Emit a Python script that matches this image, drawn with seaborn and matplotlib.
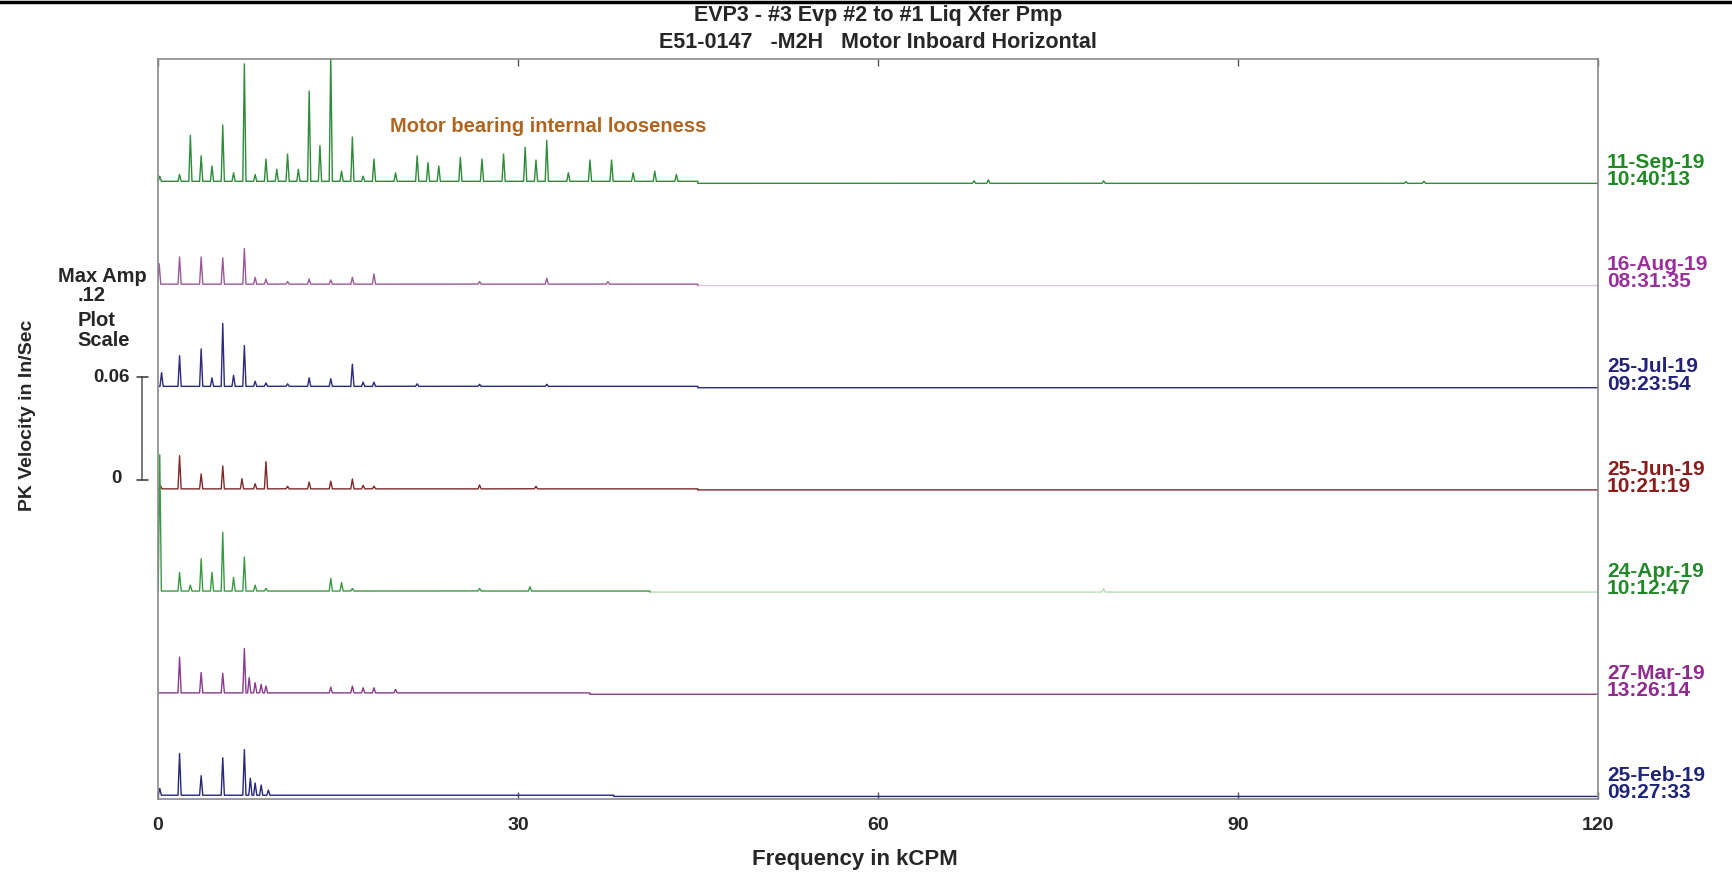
import numpy as np
import pandas as pd
import matplotlib.pyplot as plt
import seaborn as sns

# trace labels, top to bottom
dates = ["11-Sep-19", "16-Aug-19", "25-Jul-19", "25-Jun-19", "24-Apr-19", "27-Mar-19", "25-Feb-19"]
times = ["10:40:13", "08:31:35", "09:23:54", "10:21:19", "10:12:47", "13:26:14", "09:27:33"]
offsets = [0.36, 0.30, 0.24, 0.18, 0.12, 0.06, 0.0]

# peaks: frequency (kCPM) / amplitude (in/s)
sep_freq = [0.15, 1.8, 2.7, 3.6, 4.5, 5.4, 6.3, 7.2, 8.1, 9.0, 9.9, 10.8, 11.7, 12.6, 13.5, 14.4,
            15.3, 16.2, 17.1, 18.0, 19.8, 21.6, 22.5, 23.4, 25.2, 27.0, 28.8, 30.6, 31.5, 32.4,
            34.2, 36.0, 37.8, 39.6, 41.4, 43.2, 68.0, 69.2, 78.8, 104.0, 105.5]
sep_amp = [0.003, 0.004, 0.027, 0.015, 0.009, 0.033, 0.005, 0.069, 0.004, 0.013, 0.007, 0.016,
           0.007, 0.053, 0.021, 0.0735, 0.006, 0.026, 0.003, 0.013, 0.005, 0.015, 0.011, 0.009,
           0.014, 0.013, 0.016, 0.020, 0.0125, 0.024, 0.005, 0.0125, 0.0125, 0.005, 0.006, 0.004,
           0.0015, 0.002, 0.0015, 0.001, 0.0012]

aug_freq = [0.1, 1.8, 3.6, 5.4, 7.2, 8.1, 9.0, 10.8, 12.6, 14.4, 16.2, 18.0, 26.8, 32.4, 37.5]
aug_amp = [0.012, 0.016, 0.016, 0.0155, 0.021, 0.004, 0.003, 0.0015, 0.003, 0.0025, 0.004,
           0.006, 0.0015, 0.0035, 0.0015]

jul_freq = [0.3, 1.8, 3.6, 4.5, 5.4, 6.3, 7.2, 8.1, 9.0, 10.8, 12.6, 14.4, 16.2, 17.1, 18.0,
            21.6, 26.8, 32.4]
jul_amp = [0.008, 0.018, 0.022, 0.005, 0.037, 0.0065, 0.024, 0.003, 0.002, 0.0015, 0.005,
           0.0045, 0.013, 0.0025, 0.0025, 0.0015, 0.0012, 0.0012]

jun_freq = [0.2, 1.8, 3.6, 5.4, 7.0, 8.1, 9.0, 10.8, 12.6, 14.4, 16.2, 17.1, 18.0, 26.8, 31.5]
jun_amp = [0.002, 0.0195, 0.0088, 0.0135, 0.006, 0.003, 0.016, 0.0015, 0.004, 0.0045, 0.0058,
           0.002, 0.0015, 0.0023, 0.0015]

apr_freq = [0.15, 1.8, 2.7, 3.6, 4.5, 5.4, 6.3, 7.2, 8.1, 9.0, 14.4, 15.3, 16.2, 26.8, 31.0, 78.8]
apr_amp = [0.080, 0.011, 0.0035, 0.019, 0.011, 0.0345, 0.008, 0.020, 0.0035, 0.0015, 0.0075,
           0.005, 0.0015, 0.0015, 0.0025, 0.002]

mar_freq = [1.8, 3.6, 5.4, 7.2, 7.6, 8.1, 8.6, 9.0, 14.4, 16.2, 17.1, 18.0, 19.8]
mar_amp = [0.021, 0.012, 0.0115, 0.026, 0.009, 0.006, 0.005, 0.004, 0.0033, 0.004, 0.003,
           0.003, 0.002]

feb_freq = [0.15, 1.8, 3.6, 5.4, 7.2, 7.7, 8.1, 8.6, 9.2]
feb_amp = [0.004, 0.0245, 0.0115, 0.022, 0.0268, 0.010, 0.0072, 0.006, 0.003]

floor_level = [0.0012, 0.0008, 0.0008, 0.0006, 0.0006, 0.0008, 0.0007]
floor_end = [45, 45, 45, 45, 41, 36, 38]

label_colors = ["#1f8a24", "#9a2f9a", "#23237a", "#8b1c1c", "#23882a", "#8f2a8f", "#1e2478"]
line_colors = ["#2e8b3a", "#9a5a9a", "#2a2a7e", "#7e2a2a", "#3a9a44", "#8a3a8a", "#26287a"]
tail_colors = ["#2e8b3a", "#dcc4dc", "#2a2a7e", "#7e2a2a", "#b8dcb8", "#8a3a8a", "#26287a"]

peaks = [(sep_freq, sep_amp), (aug_freq, aug_amp), (jul_freq, jul_amp), (jun_freq, jun_amp),
         (apr_freq, apr_amp), (mar_freq, mar_amp), (feb_freq, feb_amp)]

sns.set_theme(style="white")
plt.rcParams['font.family'] = ['Liberation Sans', 'DejaVu Sans']
plt.rcParams['font.weight'] = 'bold'

fig = plt.figure(figsize=(17.32, 8.79), dpi=100)
ax = fig.add_axes([0.0912, 0.0899, 0.8314, 0.8418])

x = np.linspace(0, 120, 24001)
w = 0.13
for i in range(7):
    fr, am = peaks[i]
    y = np.where(x < floor_end[i], floor_level[i], 0.0)
    for f, a in zip(fr, am):
        y = y + a * np.clip(1 - np.abs(x - f) / w, 0, None)
    y = y + offsets[i]
    df = pd.DataFrame({"freq": x, "vel": y})
    head = df[df.freq <= floor_end[i]]
    tail = df[df.freq >= floor_end[i]]
    sns.lineplot(data=tail, x="freq", y="vel", ax=ax, color=tail_colors[i], lw=1.0,
                 estimator=None, sort=False)
    sns.lineplot(data=head, x="freq", y="vel", ax=ax, color=line_colors[i], lw=1.0,
                 estimator=None, sort=False)
    ax.text(120.75, offsets[i] + 0.0078, dates[i] + "\n" + times[i], color=label_colors[i],
            fontsize=15, fontweight='bold', ha='left', va='center', linespacing=0.88,
            clip_on=False)

ax.set_xlim(0, 120)
ax.set_ylim(-0.0015, 0.433)
ax.set_xticks([0, 30, 60, 90, 120])
ax.set_yticks([])
ax.tick_params(axis='x', direction='in', top=True, bottom=True, length=5, width=1,
               color="#555555", labelsize=14, pad=12)
for s in ax.spines.values():
    s.set_color("#8a8a8a")
    s.set_linewidth(1.2)
ax.set_xlabel("Frequency in kCPM", fontsize=16, fontweight='bold', labelpad=9)
ax.xaxis.set_label_coords(0.484, -0.066)
ax.set_ylabel("")

ax.text(19.3, 0.394, "Motor bearing internal looseness", color="#b0641e", fontsize=14.5,
        fontweight='bold', ha='left', va='center')

# plot scale bar at the left
ax.plot([-1.3, -1.3], [0.186, 0.2465], color="#555555", lw=1.1, clip_on=False)
ax.plot([-1.75, -0.85], [0.2465, 0.2465], color="#333333", lw=1.1, clip_on=False)
ax.plot([-1.75, -0.85], [0.186, 0.186], color="#333333", lw=1.1, clip_on=False)
ax.text(-2.4, 0.2465, "0.06", fontsize=13.5, fontweight='bold', ha='right', va='center', clip_on=False)
ax.text(-3.0, 0.187, "0", fontsize=13.5, fontweight='bold', ha='right', va='center', clip_on=False)
ax.text(-4.6, 0.306, "Max Amp", fontsize=14.5, fontweight='bold', ha='center', va='center', clip_on=False)
ax.text(-5.5, 0.2945, ".12", fontsize=14.5, fontweight='bold', ha='center', va='center', clip_on=False)
ax.text(-6.7, 0.280, "Plot", fontsize=14.5, fontweight='bold', ha='left', va='center', clip_on=False)
ax.text(-6.7, 0.2685, "Scale", fontsize=14.5, fontweight='bold', ha='left', va='center', clip_on=False)

fig.text(28 / 1732, 1 - 415 / 879, "PK Velocity in In/Sec", rotation=90, fontsize=14,
         fontweight='bold', ha='center', va='center')
fig.text(878 / 1732, 1 - 16 / 879, "EVP3 - #3 Evp #2 to #1 Liq Xfer Pmp", fontsize=15.5,
         fontweight='bold', ha='center', va='center')
fig.text(878 / 1732, 1 - 42 / 879, "E51-0147   -M2H   Motor Inboard Horizontal", fontsize=15.5,
         fontweight='bold', ha='center', va='center')
fig.add_artist(plt.Line2D([0, 1], [1 - 2.5 / 879, 1 - 2.5 / 879], color="black", lw=2.5))

fig.savefig("out.png", dpi=100, facecolor="white")
